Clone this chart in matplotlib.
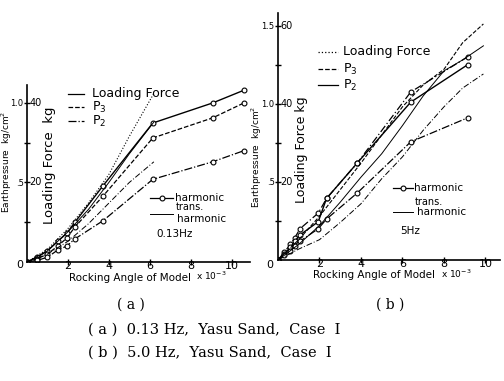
"""Earth pressure / loading force vs rocking angle, two panels"""
import matplotlib
matplotlib.use("Agg")
import matplotlib.pyplot as plt
from matplotlib.lines import Line2D

# ---- panel (a) 0.13 Hz ----
x_a_harm = [0, 0.5, 1.0, 1.5, 1.94, 2.34, 3.72, 6.15, 9.07, 10.6]
lf_a_harm = [0, 0.03, 0.07, 0.13, 0.18, 0.25, 0.48, 0.874, 1.0, 1.08]
p3_a_harm = [0, 0.02, 0.05, 0.10, 0.15, 0.22, 0.415, 0.78, 0.906, 1.0]
p2_a_harm = [0, 0.01, 0.03, 0.075, 0.10, 0.145, 0.26, 0.52, 0.63, 0.70]

x_a_trans = [0, 1, 2, 3, 4, 5, 6.2]
lf_a_trans = [0, 0.08, 0.21, 0.37, 0.55, 0.79, 1.06]
p3_a_trans = [0, 0.07, 0.19, 0.33, 0.50, 0.68, 0.88]
p2_a_trans = [0, 0.05, 0.13, 0.24, 0.37, 0.50, 0.63]

# ---- panel (b) 5 Hz ----
x_b_harm = [0, 0.3, 0.6, 0.8, 1.06, 1.94, 2.34, 3.83, 6.40, 9.15]
lf_b_harm = [0, 0.05, 0.10, 0.14, 0.20, 0.30, 0.394, 0.622, 1.075, 1.30]
p2_b_harm = [0, 0.04, 0.08, 0.12, 0.16, 0.245, 0.394, 0.622, 1.01, 1.25]
p3_b_harm = [0, 0.03, 0.06, 0.09, 0.12, 0.20, 0.262, 0.43, 0.756, 0.91]

x_b_trans = [0, 1, 2, 3, 4, 5, 6, 7, 8, 8.9, 9.9]
lf_b_trans = [0, 0.13, 0.28, 0.45, 0.62, 0.80, 0.98, 1.12, 1.22, 1.39, 1.51]
p3_b_trans = [0, 0.10, 0.22, 0.37, 0.53, 0.68, 0.86, 1.05, 1.21, 1.28, 1.37]
p2_b_trans = [0, 0.07, 0.13, 0.24, 0.36, 0.52, 0.66, 0.83, 0.98, 1.10, 1.19]

W, H = 504, 381
fig = plt.figure(figsize=(W / 100, H / 100), dpi=100)
sans = "DejaVu Sans"
serif = "DejaVu Serif"
dashdot = (0, (6, 2, 1, 2))


def fx(px):
    return px / W


def fy(py):
    return 1 - py / H


def style_axes(ax, xmax, ymax, yticks, ylabels, flabels):
    ax.set_xlim(0, xmax)
    ax.set_ylim(0, ymax)
    for s in ("top", "right"):
        ax.spines[s].set_visible(False)
    ax.spines["left"].set_linewidth(1.2)
    ax.spines["bottom"].set_linewidth(1.2)
    ax.set_xticks([2, 4, 6, 8, 10])
    ax.set_xticklabels(["2", "4", "6", "8", "10"], fontsize=8)
    ax.set_yticks(yticks)
    ax.set_yticklabels(ylabels, fontsize=6)
    ax.set_yticks([t - 0.25 for t in yticks], minor=True)
    ax.tick_params(axis="both", which="both", direction="inout", length=5,
                   width=1)
    ax.tick_params(axis="x", which="major", pad=-3)
    ax.tick_params(axis="y", which="major", pad=0)
    for t, lab in zip(yticks, flabels):
        ax.text(0.13, t, lab, fontsize=7, va="center", ha="left")


# panel (a)
ax1 = fig.add_axes([fx(27), fy(262), fx(250) - fx(27), fy(85) - fy(262)])
style_axes(ax1, 10.9, 1.113, [0.5, 1.0], [".5", "1.0"], ["20", "40"])
ax1.plot(x_a_harm, lf_a_harm, ls="-", color="k", lw=1.0, marker="o",
         ms=3.5, mfc="white", mew=0.8)
ax1.plot(x_a_harm, p3_a_harm, ls="--", color="k", lw=0.9, marker="o",
         ms=3.5, mfc="white", mew=0.8)
ax1.plot(x_a_harm, p2_a_harm, ls="-.", color="k", lw=0.9, marker="o",
         ms=3.5, mfc="white", mew=0.8)
ax1.plot(x_a_trans, lf_a_trans, ls=":", color="k", lw=0.8)
ax1.plot(x_a_trans, p3_a_trans, ls="-", color="k", lw=0.7)
ax1.plot(x_a_trans, p2_a_trans, ls=dashdot, color="k", lw=0.7)

# panel (b)
ax2 = fig.add_axes([fx(278), fy(260), fx(500) - fx(278), fy(13) - fy(260)])
style_axes(ax2, 10.7, 1.58, [0.5, 1.0, 1.5], [".5", "1.0", "1.5"],
           ["20", "40", "60"])
ax2.plot(x_b_harm, lf_b_harm, ls=dashdot, color="k", lw=0.9,
         marker="o", ms=3.5, mfc="white", mew=0.8)
ax2.plot(x_b_harm, p2_b_harm, ls="-", color="k", lw=1.0, marker="o",
         ms=3.5, mfc="white", mew=0.8)
ax2.plot(x_b_harm, p3_b_harm, ls="-.", color="k", lw=0.9, marker="o",
         ms=3.5, mfc="white", mew=0.8)
ax2.plot(x_b_trans, lf_b_trans, ls="--", color="k", lw=0.8)
ax2.plot(x_b_trans, p3_b_trans, ls="-", color="k", lw=0.7)
ax2.plot(x_b_trans, p2_b_trans, ls=dashdot, color="k", lw=0.7)

# origin zeros
fig.text(fx(20), fy(265), "0", fontsize=8, ha="center", va="center",
         family=sans)
fig.text(fx(270), fy(265), "0", fontsize=8, ha="center", va="center",
         family=sans)

# y labels
fig.text(fx(7), fy(162), "Earthpressure  kg/cm$^2$", rotation=90,
         fontsize=6.5, ha="center", va="center", family=sans)
fig.text(fx(50), fy(165), "Loading Force  kg", rotation=90,
         fontsize=9.5, ha="center", va="center", family=sans)
fig.text(fx(257), fy(157), "Earthpressure  kg/cm$^2$", rotation=90,
         fontsize=6.5, ha="center", va="center", family=sans)
fig.text(fx(302), fy(150), "Loading Force kg", rotation=90,
         fontsize=9, ha="center", va="center", family=sans)

# x labels
fig.text(fx(130), fy(278), "Rocking Angle of Model", fontsize=7.5,
         ha="center", va="center", family=sans)
fig.text(fx(211), fy(276), "x 10$^{-3}$", fontsize=6.5, ha="center",
         va="center", family=sans)
fig.text(fx(374), fy(275), "Rocking Angle of Model", fontsize=7.5,
         ha="center", va="center", family=sans)
fig.text(fx(456), fy(274), "x 10$^{-3}$", fontsize=6.5, ha="center",
         va="center", family=sans)


def legend_line(x0, x1, py, ls, lw=0.9, marker=False):
    fig.add_artist(Line2D([fx(x0), fx(x1)], [fy(py), fy(py)], ls=ls,
                          lw=lw, color="k"))
    if marker:
        fig.add_artist(Line2D([fx((x0 + x1) / 2)], [fy(py)], marker="o",
                              ms=3.5, mfc="white", mec="k", mew=0.8,
                              ls="none"))


# legend (a)
for py, ls, lab in [(94, "-", "Loading Force"), (107, "--", "P$_3$"),
                    (121, "-.", "P$_2$")]:
    legend_line(68, 84, py, ls)
    fig.text(fx(92), fy(py), lab, fontsize=9, va="center", family=sans)
legend_line(150, 173, 198, "-", marker=True)
fig.text(fx(175), fy(198), "harmonic", fontsize=7.5, va="center",
         family=sans)
legend_line(150, 173, 214, "-", lw=0.7)
fig.text(fx(176), fy(207), "trans.", fontsize=7, va="center", family=sans)
fig.text(fx(177), fy(219), "harmonic", fontsize=7.5, va="center",
         family=sans)
fig.text(fx(156), fy(234), "0.13Hz", fontsize=7.5, va="center",
         family=sans)

# legend (b)
for py, ls, lab in [(52, ":", "Loading Force"), (69, "--", "P$_3$"),
                    (85, "-", "P$_2$")]:
    legend_line(318, 338, py, ls)
    fig.text(fx(343), fy(py), lab, fontsize=9, va="center", family=sans)
legend_line(393, 413, 188, "-", marker=True)
fig.text(fx(414), fy(188), "harmonic", fontsize=7.5, va="center",
         family=sans)
legend_line(393, 413, 212, "-", lw=0.7)
fig.text(fx(415), fy(202), "trans.", fontsize=7, va="center", family=sans)
fig.text(fx(417), fy(212), "harmonic", fontsize=7.5, va="center",
         family=sans)
fig.text(fx(400), fy(231), "5Hz", fontsize=7.5, va="center", family=sans)

# captions
fig.text(fx(131), fy(305), "( a )", fontsize=10, ha="center", va="center",
         family=serif)
fig.text(fx(390), fy(305), "( b )", fontsize=10, ha="center", va="center",
         family=serif)
fig.text(fx(88), fy(330), "( a )  0.13 Hz,  Yasu Sand,  Case  I",
         fontsize=10.5, ha="left", va="center", family=serif)
fig.text(fx(88), fy(353), "( b )  5.0 Hz,  Yasu Sand,  Case  I",
         fontsize=10.5, ha="left", va="center", family=serif)

fig.savefig("out.png", dpi=100)
